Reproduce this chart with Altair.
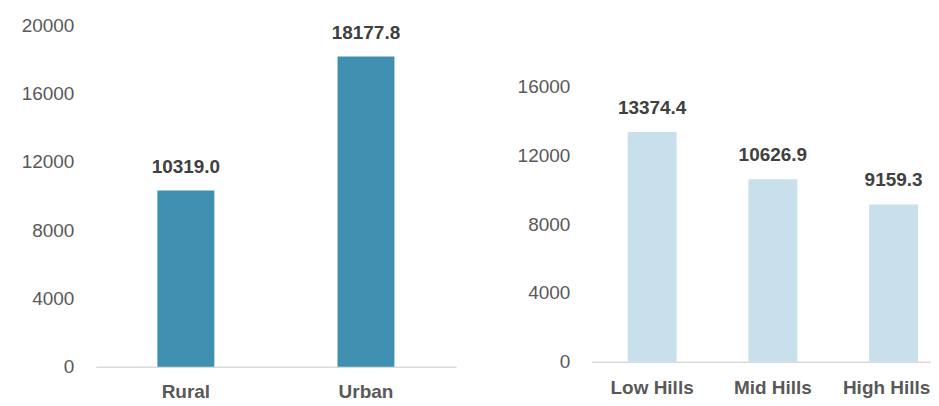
import altair as alt
import pandas as pd

area_cats = ["Rural", "Urban"]
area_vals = [10319.0, 18177.8]
belt_cats = ["Low Hills", "Mid Hills", "High Hills"]
belt_vals = [13374.4, 10626.9, 9159.3]
left_ticks = [0, 4000, 8000, 12000, 16000, 20000]
right_ticks = [0, 4000, 8000, 12000, 16000]

FONT = "Liberation Sans, Arial, sans-serif"

df_l = pd.DataFrame({"cat": area_cats, "val": area_vals})
df_r = pd.DataFrame({"cat": belt_cats, "val": belt_vals})


def panel(df, cats, ticks, dmax, width, height, color, pin, pout, align, xpad, last_shift):
    x = alt.X("cat:N", sort=cats, title=None,
              scale=alt.Scale(paddingInner=pin, paddingOuter=pout, align=align),
              axis=alt.Axis(labelAngle=0, labelFont=FONT, labelFontSize=19,
                            labelFontWeight="bold", labelColor="#595959",
                            labelPadding=xpad, ticks=False, domainColor="#d9d9d9",
                            domainWidth=1.5, grid=False,
                            labelOffset={"condition": {"test": f"datum.label == '{cats[-1]}'",
                                                       "value": last_shift},
                                         "value": 0}))
    y = alt.Y("val:Q", title=None,
              scale=alt.Scale(domain=[0, dmax], nice=False, zero=True),
              axis=alt.Axis(values=ticks, format="d", labelFont=FONT, labelFontSize=19,
                            labelColor="#595959", labelPadding=22, ticks=False,
                            domain=False, grid=False))
    bars = alt.Chart(df).mark_bar(color=color).encode(x=x, y=y)
    text = alt.Chart(df).mark_text(font=FONT, fontSize=19, fontWeight="bold",
                                   color="#404040", baseline="alphabetic",
                                   dy=-18).encode(
        x=alt.X("cat:N", sort=cats),
        y=alt.Y("val:Q"),
        text=alt.Text("val:Q", format=".1f"))
    return (bars + text).properties(width=width, height=height)


left = panel(df_l, area_cats, left_ticks, 20000, 361, 342, "#3f8fb1", 0.684, 0.342, 0.5, 16, 0)
right = panel(df_r, belt_cats, right_ticks, 19590, 347, 337, "#c8e0ec", 0.595, 0.2314, 0.643, 17, -7)

chart = alt.hconcat(left, right, spacing=61).resolve_scale(
    x="independent", y="independent"
).properties(
    padding={"left": 13, "top": 8, "right": -7, "bottom": 0},
    background="white",
).configure_view(strokeWidth=0, stroke="transparent")

chart.save("out.html", embed_options={"renderer": "svg", "actions": False})
